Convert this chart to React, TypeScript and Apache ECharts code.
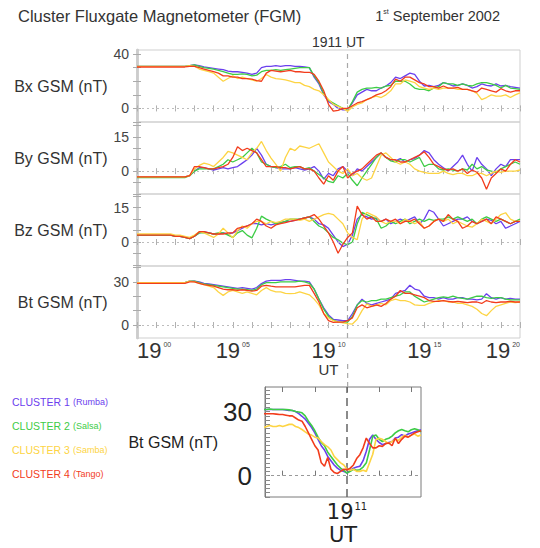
import React, { useEffect, useRef } from 'react';
import * as echarts from 'echarts';

// ---------- categories / labels ----------
const clusterNames = ['CLUSTER 1 (Rumba)', 'CLUSTER 2 (Salsa)', 'CLUSTER 3 (Samba)', 'CLUSTER 4 (Tango)'];
const clusterColors = ['#6b40ee', '#3dcc46', '#fdd443', '#f23c1c'];
const panelNames = ['Bx GSM (nT)', 'By GSM (nT)', 'Bz GSM (nT)', 'Bt GSM (nT)'];
const mainXLabelValues = [0, 5, 10, 15, 20]; // minutes after 19:00
const eventMinute = 11; // 1911 UT
const insetXLabelValues = [11];

// ---------- time sampling (minutes after 19:00) ----------
const mainStart = 0;
const mainStep = 0.25;
const insetStart = 8.4;
const insetStep = 0.1;

// ---------- Bx (nT) ----------
const bxC1 = [31,31,31,31, 31,31,31,31, 31,31,31,31.5, 32,31.5,30.5,30, 29.5,29,28.5,27.5, 27,27,26.5,26, 25,26,30,31, 31,31.5,31,31.5, 31.5,31,31,30.5, 30,23,18,10, 5,3,0,-1, -1,4,10,12, 14,13,13,15, 16.5,19,23,22, 24,26,25,20, 16.5,17,16,17, 19,18,16.5,17, 18,17,15,16, 18,17,16.5,18, 16.5,17,16,15.5, 15];
const bxC2 = [31,31,31,31, 31,31,31,31, 31,31,31,31.5, 32,31,30,29.5, 29,28,27,26, 25,25,25.5,25, 24,24.5,27,28, 28,28.5,28,28.5, 29,29.5,30,30, 30,24,19,11, 6,4,2,0, -1,5,12,14, 15,15,15.5,15, 16.5,17,20,20, 20,18,15,14, 14,13,15,16, 19,18,18,17, 18,17,16.5,18, 19,19,18,17, 15,17,15,14.5, 14];
const bxC3 = [31,31,31,31, 31,31,31,31, 31,31,31,31.5, 31,29,28,27, 26,23,20,22, 24,22,23,22, 21,20,22,25, 23,22,21.5,21, 20,19,19,17, 16,14,13,10, 6.5,3,1.5,0, -2,1,3,4, 6.5,8,9,8, 10,13,18,18, 21,20,19,16, 15,14,15,14, 15,15,15,14, 14,14,13,11, 6.5,8,10,9, 9,10,8,10, 11.5];
const bxC4 = [30.5,30.5,30.5,30.5, 30.5,30.5,30.5,30.5, 30.5,30.5,30.5,31, 31,30,29,28, 27,26,24,24, 23,23,22,22, 21.6,20.5,20,26, 28,27.5,27,27.5, 28,27,27,26.5, 26.6,25,20,13, 3,-2,-1.5,0, 0,2,4,5, 6.5,8,10,11, 13,16,21.6,20, 23,23,21,19, 18,16,16,15, 16.5,15,15,15.5, 14,14,13,12, 15,14,13,12, 14.5,13,12,13, 13];

// ---------- By (nT) ----------
const byC1 = [-2.5,-2.5,-2.5,-2.5, -2.5,-2.5,-2.5,-2.5, -2.5,-2.5,-2.5,-2, 0,1.5,1.5,1, 0.5,1,1.5,1, 1.5,2,3.5,5, 7,10,7,3, 2,1.5,1,1, 1,1.5,1,0.5, 1,2,0,-3.5, -1,-2,1,2, 0,-2,1,0, 2,4,6,8, 6,5,4.5,5.5, 4,5,5.5,7, 9,8,5,3, 1.5,0,2,4, 7,3,0,6, 3,1,-2,1, 3,2,5,5, 5];
const byC2 = [-2.8,-2.8,-2.8,-2.8, -2.8,-2.8,-2.8,-2.8, -2.8,-2.8,-2.8,-2, 0,1,1,1, 1,2,3,5, 4,5,6,8, 10,8,4,3, 2,1.5,2,3, 1.5,2,2,1, 1.5,0,-1.5,-3, -4.5,-5,-2,-3, -1,-4,-6.4,-3, 0,3,6,8, 6,4.5,4,5, 5,4,5,6, 2,3,3,1, 0.5,1,0.5,0, 1,0.5,3,1, 2,0.5,0,-0.5, 1,2,3,4, 3];
const byC3 = [-2.5,-2.5,-2.5,-2.5, -2.5,-2.5,-2.5,-2.5, -2.5,-2.5,-2.5,-2, 1,2.5,3.5,3, 2,4,6,8.6, 8,7,6,5, 8,10,13,9, 5.7,3,0,6, 10,9,11,10.5, 10,11,12,8, 4,2,0,-1, 1,-2,-1,-3, -4,-3,2,7, 8,6,4,3, 4,3,1,0, -0.5,-1,-1,-1, 0,-1,-1.5,-1, -1,-2,-2,-1, -1,-2,-1,0, -0.5,0,0,0, 0.5];
const byC4 = [-2.5,-2.5,-2.5,-2.5, -2.5,-2.5,-2.5,-2.5, -2.5,-2.5,-2.5,-2, 2,2,1.5,1, 1,1.5,2,3, 6,10.7,9,10, 9,8,5,2, 2,2,1.5,1.5, 1,1.5,2,1, 1,0,-3,-5.7, -2,-4,0,2, -3,-1,0,1, 3,5,7,8, 6,5,5,4, 4,5,6,7, 8.5,6,3,2, 1,0.5,1,0, 1,-1,0.5,-0.5, -3,-7.9,-3,-1, 1,0,3,5, 4];

// ---------- Bz (nT) ----------
const bzC1 = [3,3,3,3, 3,3,3,3, 2.5,2.5,2,1.5, 2.5,4,4.5,4, 3.5,3.5,4,3.5, 4,5,6,7, 8,8,7.5,8, 7.5,8,8.5,9, 9,9.5,10,10.5, 11,10,8,7.5, 6,3,0,-2, -1,3,10,12, 11,10,10.5,9, 10,8,9,10, 9,10,11,8, 10,14,13,10, 7,8,9,10, 10,11,9,8, 9,10,9.5,8, 9,6,7,8, 9];
const bzC2 = [3,3,3,3, 3,3,3,3, 2.5,2.5,2,1.5, 2.5,4,4,4, 3.5,4,4,3, 2,4,5,3, 1.8,6,11.3,10, 9,8,8.5,9, 10,10,10,10.5, 11,9,7,6, 4,2,1,-0.5, -1.2,0,8,13, 12,11,10,6, 7,9,8,9, 10,8,9,10, 9,10,9.5,10, 10,11,10,11, 10,9,10,8, 10,11,10,9, 10,9,8,9, 10];
const bzC3 = [3.5,3.5,3.5,3.5, 3.5,3.5,3.5,3.5, 3,3,2.5,2, 3,4.5,4,3, 2,3.5,6,4, 1.8,5,7,6, 8,9,9,8, 9,8.5,9,10, 10,10,9.5,10, 9,10,11,12, 12.5,12,10,8, 4,2,1,10, 13,12,11,9, 8,9,9,8, 10,9,8,9, 6,7,9,10, 9,10,8,9, 8,7,6.5,8, 10,9,8,10, 12,12.8,10,9, 9];
const bzC4 = [3,3,3,3, 3,3,3,3, 2.5,2.5,2,1.5, 2.5,4.5,4.5,4, 3.5,3.5,3.5,4, 4,6,6.5,7, 8,10,9,7, 6,7.5,8,8.5, 9,9.5,10,10.5, 11,12,10,7, 4,0,-4.9,-1, 2,4,15.7,12, 10,11,9,9, 10,9,10,8, 9,9,10,8, 6,7,9,10, 9,12,10,9, 6,7,9,8, 9,10,8,11, 10,9,8,9, 9];

// ---------- Bt (nT) ----------
const btC1 = [29.5,29.5,29.5,29.5, 29.5,29.5,29.5,29.5, 29.5,29.5,29.5,30.5, 30.5,30,29,28.5, 28,27.5,27,26.5, 26,25.5,26,25.5, 25,26,28.8,30.5, 31,31,31,31.5, 31.5,31,30.5,30.5, 30,25,18,12, 7,4,3.5,3, 3,8,14,18, 15,14,15,16, 17,18,22,23, 24,27.6,25,24, 20,19,19,18, 19,18,18,19, 19,18,18,17.5, 18,21.8,19,18, 19,18,18.5,18, 18];
const btC2 = [29.5,29.5,29.5,29.5, 29.5,29.5,29.5,29.5, 29.5,29.5,29.5,30.5, 30.5,29.5,28.5,28, 27.5,27,26.5,26, 25.5,25,25,24.5, 24,25,28,29.5, 29.5,29.5,30,30, 30,30,30.5,30, 29,25,18,11, 6,3.5,2,2, 2,6,14,17, 16,17,17,18, 18,19,20,21, 23,23,20,18, 16,17,18,19, 19.5,19,20,19, 18.5,18,19,20, 20,19,18.5,19, 19,18,17.5,17.5, 17.5];
const btC3 = [29.5,29.5,29.5,29.5, 29.5,29.5,29.5,29.5, 29.5,29.5,29.5,30.5, 30,29,28,27, 26,23,20.6,23, 24,23,22,23, 22,21,24,26, 24,23,23,22, 21.8,22,23,22, 21,18,14,8, 5,3,2,1.5, 1,0.7,4,10, 14.7,13,13.6,15, 14,17,18,17, 17,16,14,13.6, 13.6,15,16,17, 17,16,16,15, 15,14,13,11, 8,6.5,10,13, 14,15,16,15.5, 16];
const btC4 = [29,29,29,29, 29,29,29,29, 29,29,29,30, 30,29,28,27.5, 27,26,25,24.5, 24.5,24,24.5,24, 23.5,24,27,27.6, 27,26.5,26.5,26.5, 26.5,26.5,27,27.5, 27.6,22,16,8, 3,1.9,2,2, 3,5,12,14, 12,13,14,13, 15,18,20,24, 22,22,21,20, 19,17,16.5,16.5, 17,16.5,16,16.5, 16,15.5,16,16, 15,17,16,15.5, 16,16,16.5,16, 16];

// ---------- Inset: Bt (nT), 19:08.4 - 19:13.3 ----------
const insetC1 = [31,31,31,31,31,31,31,30.8,30.5,30.5, 30,29,27.8,26.5,24.5,22.5,20,17,14,12, 9,7,5,3.5,2.5,2,1.2,2.5,3.5,4, 4.4,7,11.4,17,19,17,15.5,14.5,15,15.5, 16,17.6,18,19.2,18.5,19.5,20,20.5,21,21.5];
const insetC2 = [31,31,31.2,31,31,31,31,31,30.8,30.5, 30,29.8,29.4,28,25.5,23.5,21,18,15.5,14, 11,9,7,5,3.5,2.5,1.2,2,3,2.5, 2.8,4,6,12,18.4,19,17,16,17,17.5, 18.5,20,21,21.6,21,20.5,21.5,22,21.5,20.5];
const insetC3 = [22.5,23,23.5,23,23,23.5,23,23.5,24,24, 23,22.5,21.6,20.5,19.5,19,18,17.6,16,14.5, 13.5,12,9,7.5,6,5,3,2.5,3,2, 2,2.5,2,6,10,16.9,17.5,17,16,15, 16,17,16.5,18,19,18,19,19.5,18.5,19];
const insetC4 = [29,29,29,29,28.8,28.6,28.6,28.3,28,28, 27,26,25.5,23,20,17,14,12,6,4.4, 8.5,3,1.5,1,2,3,2.8,3.5,5,8, 9.8,13,17.6,15,13,13,14,13.7,15,15.3, 14,17.6,15,17,18.5,18,19,20,20.5,21];

// ---------- axis settings ----------
const bxRange = [-10, 43];
const byRange = [-10, 21.5];
const bzRange = [-10.5, 21];
const btRange = [-9, 41];
const insetXRange = [8.45, 13.3];
const insetYRange = [-10, 41.5];
const bxLabels = [0, 40];
const byLabels = [0, 15];
const bzLabels = [0, 15];
const btLabels = [0, 30];
const insetYLabels = [0, 30];

const sansFont = '"Liberation Sans", Arial, Helvetica, sans-serif';
const wideFont = '"DejaVu Sans", Verdana, sans-serif';

export default function App() {
  const ref = useRef<HTMLDivElement>(null);

  useEffect(() => {
    document.body.style.margin = '0';
    if (!ref.current) return;
    const chart = echarts.init(ref.current, null, { renderer: 'svg' });

    const mainTimes = bxC1.map((_, i) => mainStart + i * mainStep);
    const insetTimes = insetC1.map((_, i) => +(insetStart + i * insetStep).toFixed(2));
    const pairs = (ts: number[], vs: number[]) => vs.map((v, i) => [ts[i], v]);

    const panels = [
      { data: [bxC1, bxC2, bxC3, bxC4], range: bxRange, labels: bxLabels, ticks: [-10, 0, 10, 20, 30, 40] },
      { data: [byC1, byC2, byC3, byC4], range: byRange, labels: byLabels, ticks: [-10, -5, 0, 5, 10, 15, 20] },
      { data: [bzC1, bzC2, bzC3, bzC4], range: bzRange, labels: bzLabels, ticks: [-10, -5, 0, 5, 10, 15, 20] },
      { data: [btC1, btC2, btC3, btC4], range: btRange, labels: btLabels, ticks: [0, 10, 20, 30, 40] },
    ];

    const mainLeft = 137;
    const mainWidth = 383;
    const mainTop = 50;
    const panelH = 72;
    const minuteTicks: number[] = [];
    for (let m = 0; m <= 20; m++) minuteTicks.push(m);
    const insetMinuteTicks = [9, 10, 11, 12, 13];
    const insetYTicks: number[] = [];
    for (let v = -10; v <= 40; v += 2) insetYTicks.push(v);

    const grids: any[] = panels.map((_, i) => ({
      left: mainLeft, top: mainTop + i * panelH, width: mainWidth, height: panelH,
      show: true, borderColor: '#cfcfcf', borderWidth: 1, outerBoundsMode: 'none',
    }));
    grids.push({ left: 265, top: 387, width: 156, height: 110, show: true, borderColor: '#7a7a7a', borderWidth: 1, outerBoundsMode: 'none' });

    const supFormatter = (v: number) => `{a|19}{b|${String(Math.round(v)).padStart(2, '0')}}`;

    const xAxes: any[] = [];
    // main bottom axes 0-3
    panels.forEach((_, i) => {
      xAxes.push({
        type: 'value', gridIndex: i, min: 0, max: 20, position: 'bottom',
        axisLine: { show: false }, splitLine: { show: false },
        axisTick: { show: true, inside: true, length: 3, customValues: minuteTicks, lineStyle: { color: '#b0b0b0' } },
        axisLabel: i === 3 ? {
          show: true, customValues: mainXLabelValues, formatter: supFormatter, margin: 1,
          alignMinLabel: 'left', alignMaxLabel: 'right',
          rich: {
            a: { fontSize: 22, fontFamily: sansFont, color: '#333' },
            b: { fontSize: 7, fontFamily: sansFont, color: '#444', verticalAlign: 'top', padding: [2, 0, 0, 2] },
          },
        } : { show: false },
        name: i === 3 ? 'UT' : '', nameLocation: 'middle', nameGap: 23,
        nameTextStyle: { fontSize: 15, color: '#333', fontFamily: sansFont },
      });
    });
    // inset bottom axis 4
    xAxes.push({
      type: 'value', gridIndex: 4, min: insetXRange[0], max: insetXRange[1], position: 'bottom',
      axisLine: { show: false }, splitLine: { show: false },
      axisTick: { show: true, inside: true, length: 5, customValues: insetMinuteTicks, lineStyle: { color: '#777' } },
      axisLabel: {
        show: true, customValues: insetXLabelValues, formatter: supFormatter, margin: 4,
        rich: {
          a: { fontSize: 21, fontFamily: wideFont, color: '#222' },
          b: { fontSize: 10, fontFamily: wideFont, color: '#222', verticalAlign: 'top', padding: [0, 0, 0, 1] },
        },
      },
      name: 'UT', nameLocation: 'middle', nameGap: 27,
      nameTextStyle: { fontSize: 21, color: '#222', fontFamily: wideFont },
    });
    // main top axes 5-8
    panels.forEach((_, i) => {
      xAxes.push({
        type: 'value', gridIndex: i, min: 0, max: 20, position: 'top',
        axisLine: { show: false }, splitLine: { show: false },
        axisTick: { show: true, inside: true, length: 3, customValues: minuteTicks, lineStyle: { color: '#b0b0b0' } },
        axisLabel: { show: false },
      });
    });
    // inset top axis 9
    xAxes.push({
      type: 'value', gridIndex: 4, min: insetXRange[0], max: insetXRange[1], position: 'top',
      axisLine: { show: false }, splitLine: { show: false },
      axisTick: { show: true, inside: true, length: 5, customValues: insetMinuteTicks, lineStyle: { color: '#777' } },
      axisLabel: { show: false },
    });

    const yAxes: any[] = [];
    panels.forEach((p, i) => {
      yAxes.push({
        type: 'value', gridIndex: i, min: p.range[0], max: p.range[1], position: 'left',
        axisLine: { show: true, lineStyle: { color: '#cccccc', width: 2.5 } },
        axisTick: { show: true, inside: true, length: 4, customValues: p.ticks, lineStyle: { color: '#aaaaaa' } },
        axisLabel: { show: true, customValues: p.labels, fontSize: 14, color: '#444', margin: 8, fontFamily: sansFont },
        splitLine: { show: false },
        name: panelNames[i], nameLocation: 'middle', nameRotate: 0, nameGap: 26,
        nameTextStyle: { fontSize: 16, color: '#333', fontFamily: sansFont },
      });
    });
    yAxes.push({
      type: 'value', gridIndex: 4, min: insetYRange[0], max: insetYRange[1], position: 'left',
      axisLine: { show: true, lineStyle: { color: '#7a7a7a', width: 1 } },
      axisTick: { show: true, inside: true, length: 5, customValues: insetYTicks, lineStyle: { color: '#888' } },
      axisLabel: { show: true, customValues: insetYLabels, fontSize: 26, color: '#222', margin: 13, fontFamily: sansFont },
      splitLine: { show: false },
      name: 'Bt GSM (nT)', nameLocation: 'middle', nameRotate: 0, nameGap: 14,
      nameTextStyle: { fontSize: 16, color: '#222', fontFamily: sansFont },
    });
    panels.forEach((p, i) => {
      yAxes.push({
        type: 'value', gridIndex: i, min: p.range[0], max: p.range[1], position: 'right',
        axisLine: { show: true, lineStyle: { color: '#cccccc', width: 2.5 } },
        axisTick: { show: true, inside: true, length: 4, customValues: p.ticks, lineStyle: { color: '#aaaaaa' } },
        axisLabel: { show: false }, splitLine: { show: false },
      });
    });

    const series: any[] = [];
    panels.forEach((p, gi) => {
      p.data.forEach((arr, ci) => {
        const s: any = {
          type: 'line', name: clusterNames[ci], xAxisIndex: gi, yAxisIndex: gi,
          data: pairs(mainTimes, arr), showSymbol: false, symbol: 'none',
          lineStyle: { width: 1.3, color: clusterColors[ci] }, itemStyle: { color: clusterColors[ci] },
          z: 3 + ci,
        };
        if (ci === 0) {
          s.markLine = {
            silent: true, symbol: 'none', label: { show: false }, animation: false,
            data: [
              { yAxis: 0, lineStyle: { color: '#bdbdbd', type: [2, 3], width: 1 } },
              { xAxis: eventMinute, lineStyle: { color: '#a8a8a8', type: [5, 4], width: 1.2 } },
            ],
          };
        }
        series.push(s);
      });
    });
    [insetC1, insetC2, insetC3, insetC4].forEach((arr, ci) => {
      const s: any = {
        type: 'line', name: clusterNames[ci], xAxisIndex: 4, yAxisIndex: 4,
        data: pairs(insetTimes, arr), showSymbol: false, symbol: 'none',
        lineStyle: { width: 1.6, color: clusterColors[ci] }, itemStyle: { color: clusterColors[ci] },
        z: 3 + ci,
      };
      if (ci === 0) {
        s.markLine = {
          silent: true, symbol: 'none', label: { show: false }, animation: false,
          data: [
            { yAxis: 0, lineStyle: { color: '#999', type: [3, 3], width: 1 } },
            { xAxis: eventMinute, lineStyle: { color: '#666', type: [8, 5], width: 1.5 } },
          ],
        };
      }
      series.push(s);
    });

    chart.setOption({
      animation: false,
      backgroundColor: '#ffffff',
      title: [
        { text: 'Cluster Fluxgate Magnetometer (FGM)', left: 18, top: 7, padding: 0,
          textStyle: { fontSize: 16.5, fontWeight: 'normal', color: '#333', fontFamily: sansFont } },
        { text: '1{sup|st} September 2002', right: 40, top: 8, padding: 0,
          textStyle: { fontSize: 14.5, fontWeight: 'normal', color: '#333', fontFamily: sansFont,
            rich: { sup: { fontSize: 7, color: '#333', verticalAlign: 'top', fontFamily: sansFont } } } },
        { text: '1911 UT', left: 312, top: 35, padding: 0,
          textStyle: { fontSize: 14, fontWeight: 'normal', color: '#333', fontFamily: sansFont } },
      ],
      legend: {
        orient: 'vertical', left: 2, top: 391, itemWidth: 0, itemHeight: 10, itemGap: 12,
        icon: 'none', selectedMode: false,
        data: clusterNames.map((n, i) => ({ name: n, textStyle: { color: clusterColors[i] } })),
        formatter: (name: string) => {
          const k = name.indexOf(' (');
          return `{a|${name.slice(0, k)}} {b|${name.slice(k + 1)}}`;
        },
        textStyle: {
          rich: {
            a: { fontSize: 10.5, fontFamily: sansFont },
            b: { fontSize: 9, fontFamily: sansFont },
          },
        },
      },
      grid: grids,
      xAxis: xAxes,
      yAxis: yAxes,
      series,
    });

    const x11 = chart.convertToPixel({ xAxisIndex: 3 }, eventMinute) as number;
    const yTop = chart.convertToPixel({ yAxisIndex: 0 }, bxRange[1]) as number;
    const yBot = chart.convertToPixel({ yAxisIndex: 3 }, btRange[0]) as number;
    const yInsetTop = chart.convertToPixel({ yAxisIndex: 4 }, insetYRange[1]) as number;
    chart.setOption({
      graphic: [
        { type: 'line', silent: true, shape: { x1: x11, y1: yTop - 6, x2: x11, y2: yTop },
          style: { stroke: '#a8a8a8', lineWidth: 1.2, lineDash: [4, 3] } },
        { type: 'line', silent: true, shape: { x1: x11, y1: yBot + 26, x2: x11, y2: yInsetTop },
          style: { stroke: '#a8a8a8', lineWidth: 1.2, lineDash: [5, 4] } },
      ],
    });

    return () => chart.dispose();
  }, []);

  return <div ref={ref} style={{ width: 540, height: 548 }} />;
}
